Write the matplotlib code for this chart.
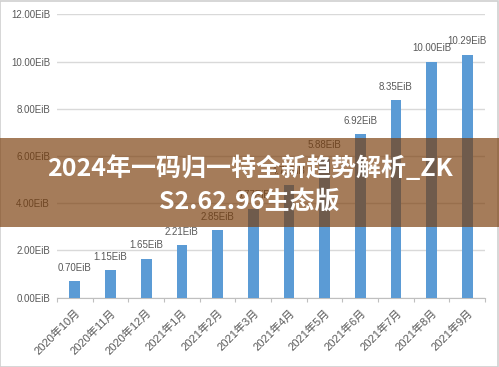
import matplotlib.pyplot as plt
from matplotlib.patches import Rectangle

months = ['2020年10月', '2020年11月', '2020年12月', '2021年1月', '2021年2月', '2021年3月',
          '2021年4月', '2021年5月', '2021年6月', '2021年7月', '2021年8月', '2021年9月']
storage = [0.70, 1.15, 1.65, 2.21, 2.85, 3.77, 4.78, 5.88, 6.92, 8.35, 10.00, 10.29]
yticks = [0, 2, 4, 6, 8, 10, 12]
banner_text = '2024年一码归一特全新趋势解析_ZK\nS2.62.96生态版'

fam = ['Liberation Sans', 'Noto Sans CJK SC']
grey = '#595959'

fig = plt.figure(figsize=(4.99, 3.67), dpi=100)
ax = fig.add_axes([0.1142, 0.189, 0.858, 0.772])

x = range(len(months))
ax.bar(x, storage, width=0.3, color='#5b9bd5', zorder=3)
for i, v in zip(x, storage):
    ax.annotate('%.2fEiB' % v, (i, v), xytext=(0, 6), textcoords='offset points',
                ha='center', va='bottom', fontsize=7, color=grey, family=fam)

ax.set_xlim(-0.5, len(months) - 0.5)
ax.set_ylim(0, 12)
ax.set_yticks(yticks)
ax.set_yticklabels(['%.2fEiB' % t for t in yticks], fontsize=7, color=grey, family=fam)
ax.tick_params(axis='y', length=0, pad=5)
ax.yaxis.grid(True, color='#d9d9d9', linewidth=1, zorder=0)

# category ticks sit between the bars, labels at bar centres
ax.set_xticks([i - 0.5 for i in range(len(months) + 1)])
ax.set_xticklabels([])
ax.set_xticks(list(x), minor=True)
ax.set_xticklabels(months, minor=True, rotation=45, ha='right', rotation_mode='anchor',
                   fontsize=8, color=grey, family=fam)
ax.tick_params(axis='x', which='major', length=3, color='#bfbfbf')
ax.tick_params(axis='x', which='minor', length=0, pad=7)

for s in ['top', 'right', 'left']:
    ax.spines[s].set_visible(False)
ax.spines['bottom'].set_color('#bfbfbf')

# frame around the picture
fig.patches.append(Rectangle((0.001, 0.001), 0.997, 0.997, transform=fig.transFigure,
                             fill=False, edgecolor='#d0d0d0', linewidth=1.2))

# translucent banner with the title over it
fig.patches.append(Rectangle((0, (367 - 227) / 367), 1, 89 / 367, transform=fig.transFigure,
                             facecolor=(121 / 255, 60 / 255, 9 / 255), alpha=0.67,
                             edgecolor='none', zorder=10))
fig.text(0.5, (367 - 184.5) / 367, banner_text, ha='center', va='center', color='white',
         fontsize=18, fontweight='bold', family=['Noto Sans CJK SC', 'DejaVu Sans'],
         linespacing=1.5, zorder=11)

fig.savefig('out.png', dpi=100)
